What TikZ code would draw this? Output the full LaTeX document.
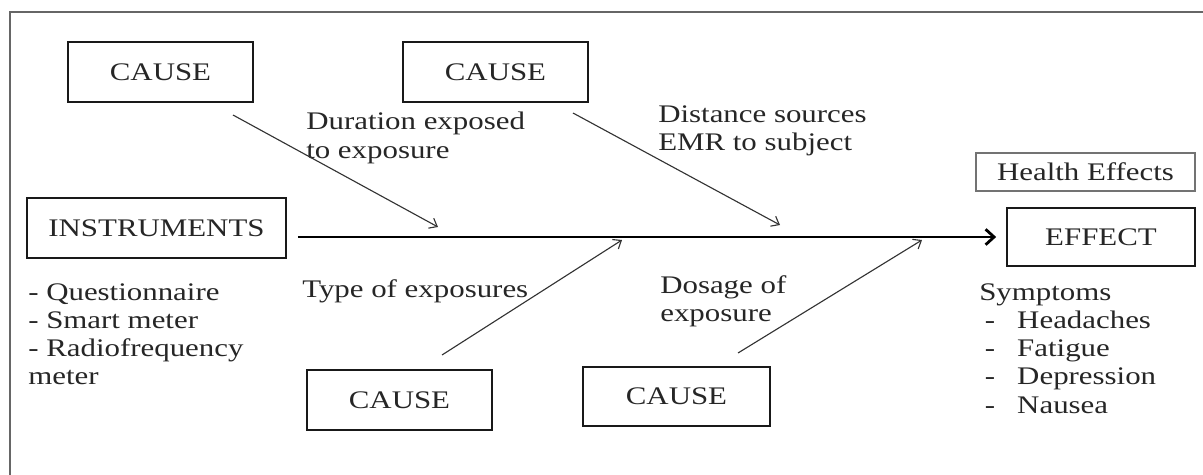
\documentclass[tikz,border=0pt]{standalone}
\usepackage{fontspec}
\setmainfont{Liberation Serif}[FakeStretch=1.22]
\usepackage{xcolor}
\usetikzlibrary{arrows.meta}

\begin{document}
\begin{tikzpicture}[x=0.025cm, y=-0.025cm,
    font=\fontsize{18}{20.1}\selectfont, text=black!85,
    box/.style={rectangle, draw=black!90, line width=1.2pt, minimum width=4.625cm, minimum height=1.5cm, inner sep=0pt},
    txt/.style={anchor=north west, inner sep=0pt, align=left},
    causearrow/.style={draw=black!80, line width=0.8pt, -{Straight Barb[length=5pt,width=8pt]}},
    mainarrow/.style={draw=black, line width=2pt, -{Straight Barb[length=6pt,width=11pt,line width=2pt]}}]

    \useasboundingbox (0,0) rectangle (1203,474);

    % frame
    \draw[black!60, line width=1pt] (10,500) -- (10,12) -- (1230,12);

    % causes
    \node[box] (causeA) at (160.5,72) {CAUSE};
    \node[box] (causeB) at (495.5,72) {CAUSE};
    \node[box] (causeC) at (399.5,400) {CAUSE};
    \node[box, minimum width=4.675cm, minimum height=1.475cm] (causeD) at (676.5,396.5) {CAUSE};

    % head and tail
    \node[box, minimum width=6.475cm] (instr) at (156.5,228) {INSTRUMENTS};
    \node[box, minimum width=4.7cm, minimum height=1.45cm] (effect) at (1101,237) {EFFECT};
    \node[box, draw=black!55, line width=0.8pt, minimum width=5.475cm, minimum height=0.95cm] (health) at (1085.5,172) {Health Effects};

    % labels
    \node[txt] (durlbl) at (306,112) {Duration exposed\\to exposure};
    \node[txt] (distlbl) at (658,105) {Distance sources\\EMR to subject};
    \node[txt] (typelbl) at (302,279) {Type of exposures};
    \node[txt] (doselbl) at (660,275) {Dosage of\\exposure};
    \node[txt] (instrlist) at (28,283) {- Questionnaire\\- Smart meter\\- Radiofrequency\\meter};
    \node[txt] (symplist) at (979,283) {Symptoms\\
        \hspace*{4pt}\makebox[23pt][l]{-}Headaches\\
        \hspace*{4pt}\makebox[23pt][l]{-}Fatigue\\
        \hspace*{4pt}\makebox[23pt][l]{-}Depression\\
        \hspace*{4pt}\makebox[23pt][l]{-}Nausea};

    % bone ends
    \coordinate (boneAs) at (233,115);
    \coordinate (boneAe) at (438,227);
    \coordinate (boneBs) at (573,113);
    \coordinate (boneBe) at (780,225);
    \coordinate (boneCs) at (442,355);
    \coordinate (boneCe) at (622,240);
    \coordinate (boneDs) at (738,353);
    \coordinate (boneDe) at (922,240);

    \draw[mainarrow, shorten <=0.275cm, shorten >=0.25cm] (instr.east |- effect.west) -- (effect.west);
    \draw[causearrow] (boneAs) -- (boneAe);
    \draw[causearrow] (boneBs) -- (boneBe);
    \draw[causearrow] (boneCs) -- (boneCe);
    \draw[causearrow] (boneDs) -- (boneDe);
\end{tikzpicture}
\end{document}
